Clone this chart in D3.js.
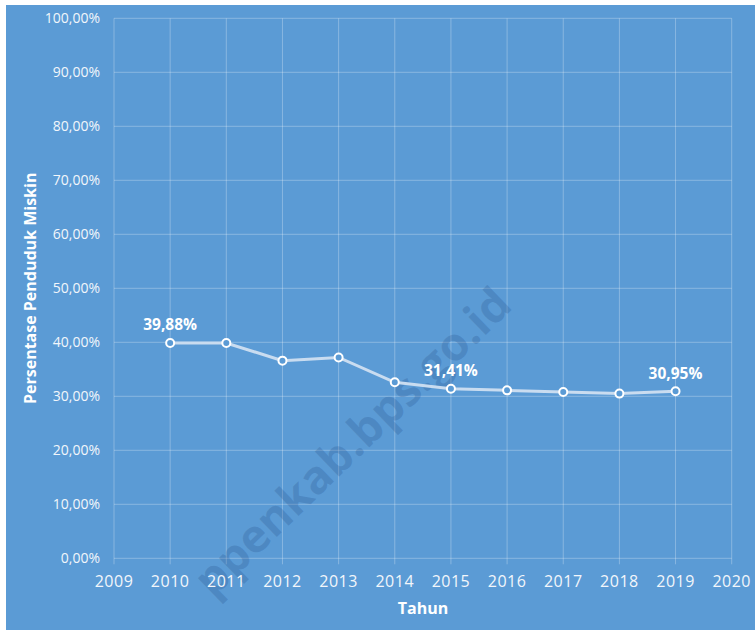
<!DOCTYPE html>
<html>
<head>
<meta charset="utf-8">
<script src="https://cdn.jsdelivr.net/npm/d3@7"></script>
<style>
  html, body { margin: 0; padding: 0; background: #ffffff; }
  svg { display: block; }
</style>
</head>
<body>
<svg id="chart" width="755" height="630"></svg>
<script>
// ---- data ----
const years = [2010, 2011, 2012, 2013, 2014, 2015, 2016, 2017, 2018, 2019];
const poverty = [39.88, 39.88, 36.6, 37.2, 32.6, 31.41, 31.1, 30.8, 30.5, 30.95];
const labelledYears = [2010, 2015, 2019];
const xTicks = [2009, 2010, 2011, 2012, 2013, 2014, 2015, 2016, 2017, 2018, 2019, 2020];
const yTicks = [0, 10, 20, 30, 40, 50, 60, 70, 80, 90, 100];
const xTitle = "Tahun";
const yTitle = "Persentase Penduduk Miskin";
const watermark = "ppenkab.bps.go.id";

const fmt = v => d3.format(".2f")(v).replace(".", ",") + "%";

const svg = d3.select("#chart");
const W = 755, H = 630;
const m = { left: 114, top: 18.3, right: W - 731.7, bottom: H - 558.3 };

const bg = "#5B9BD5";
svg.append("rect").attr("x", 6).attr("y", 5).attr("width", W - 6).attr("height", H - 5).attr("fill", bg);

const x = d3.scaleLinear().domain([2009, 2020]).range([m.left, W - m.right]);
const y = d3.scaleLinear().domain([0, 100]).range([H - m.bottom, m.top]);

const font = "'Open Sans', 'Noto Sans', sans-serif";
const gridColor = "rgba(255,255,255,0.28)";

// horizontal gridlines
svg.append("g").selectAll("line").data(yTicks).join("line")
  .attr("x1", x(2009)).attr("x2", x(2020))
  .attr("y1", d => y(d)).attr("y2", d => y(d))
  .attr("stroke", gridColor).attr("stroke-width", 1);

// vertical gridlines (extend below as tick marks)
svg.append("g").selectAll("line").data(xTicks).join("line")
  .attr("x1", d => x(d)).attr("x2", d => x(d))
  .attr("y1", y(100)).attr("y2", y(0) + 6)
  .attr("stroke", gridColor).attr("stroke-width", 1);

// watermark
svg.append("text")
  .attr("transform", "translate(503,296) rotate(-44)")
  .attr("text-anchor", "end")
  .attr("dy", "0.35em")
  .attr("font-family", font).attr("font-weight", 700).attr("font-size", 46)
  .attr("fill", "rgba(30,70,130,0.22)")
  .text(watermark);

// y tick labels
svg.append("g").selectAll("text").data(yTicks).join("text")
  .attr("x", 100).attr("y", d => y(d)).attr("dy", "0.35em")
  .attr("text-anchor", "end")
  .attr("font-family", font).attr("font-size", 14)
  .attr("fill", "#F2F6FB")
  .text(d => fmt(d));

// x tick labels
svg.append("g").selectAll("text").data(xTicks).join("text")
  .attr("x", d => x(d)).attr("y", 581).attr("dy", "0.35em")
  .attr("text-anchor", "middle")
  .attr("font-family", font).attr("font-size", 16)
  .attr("letter-spacing", 0.5)
  .attr("fill", "#F2F6FB")
  .text(d => d);

// axis titles
svg.append("text")
  .attr("x", 423).attr("y", 608).attr("dy", "0.35em")
  .attr("text-anchor", "middle")
  .attr("font-family", font).attr("font-weight", 700).attr("font-size", 16)
  .attr("fill", "#ffffff")
  .text(xTitle);

svg.append("text")
  .attr("transform", `translate(30,${(y(0) + y(100)) / 2}) rotate(-90)`)
  .attr("text-anchor", "middle").attr("dy", "0.35em")
  .attr("font-family", font).attr("font-weight", 700).attr("font-size", 16)
  .attr("fill", "#ffffff")
  .text(yTitle);

// line
const data = years.map((yr, i) => ({ yr, v: poverty[i] }));
svg.append("path").datum(data)
  .attr("d", d3.line().x(d => x(d.yr)).y(d => y(d.v)))
  .attr("fill", "none")
  .attr("stroke", "#C9DCF0").attr("stroke-width", 3);

svg.append("g").selectAll("circle").data(data).join("circle")
  .attr("cx", d => x(d.yr)).attr("cy", d => y(d.v)).attr("r", 4)
  .attr("fill", bg).attr("stroke", "#ffffff").attr("stroke-width", 2);

// data labels
svg.append("g").selectAll("text").data(data.filter(d => labelledYears.includes(d.yr))).join("text")
  .attr("x", d => x(d.yr)).attr("y", d => y(d.v) - 18).attr("dy", "0.35em")
  .attr("text-anchor", "middle")
  .attr("font-family", font).attr("font-weight", 700).attr("font-size", 15.5)
  .attr("fill", "#ffffff")
  .text(d => fmt(d.v));
</script>
</body>
</html>
